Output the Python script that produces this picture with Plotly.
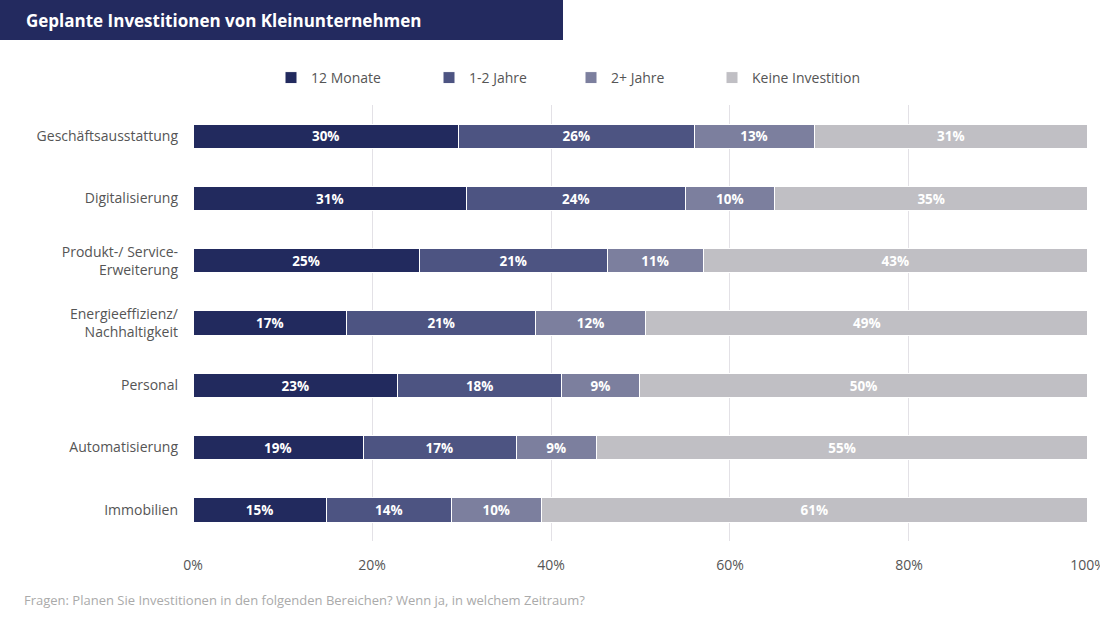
import plotly.graph_objects as go

categories = ["Geschäftsausstattung", "Digitalisierung", "Produkt-/ Service-<br>Erweiterung",
              "Energieeffizienz/<br>Nachhaltigkeit", "Personal", "Automatisierung", "Immobilien"]
series_names = ["12 Monate", "1-2 Jahre", "2+ Jahre", "Keine Investition"]
v12 = [29.7, 30.6, 25.3, 17.2, 22.9, 19.0, 14.9]
v1_2 = [26.3, 24.4, 21.0, 21.1, 18.3, 17.1, 14.0]
v2p = [13.4, 10.0, 10.7, 12.3, 8.7, 9.0, 10.0]
vnone = [30.6, 35.0, 43.0, 49.4, 50.1, 54.9, 61.1]
colors = ["#222a5e", "#4d5482", "#7c7f9e", "#c0bfc4"]
tick_vals = [0, 20, 40, 60, 80, 100]
tick_text = ["0%", "20%", "40%", "60%", "80%", "100%"]

PW, PH, L, T = 895, 436, 193, 105
legend_ids = ["legend", "legend2", "legend3", "legend4"]
legend_left_px = [271, 429, 571, 712]

fig = go.Figure()
for name, vals, col, lid in zip(series_names, [v12, v1_2, v2p, vnone], colors, legend_ids):
    fig.add_trace(go.Bar(
        y=categories, x=vals, name=name, orientation="h", legend=lid,
        marker=dict(color=col, line=dict(color="white", width=1)),
        texttemplate="%{x:.0f}%", textposition="inside", insidetextanchor="middle",
        textfont=dict(color="white", size=14, family="Open Sans", weight="bold"),
        hoverinfo="skip",
    ))

legend_defs = {}
for lid, lx in zip(legend_ids, legend_left_px):
    legend_defs[lid] = dict(orientation="h", x=(lx - L) / PW, xanchor="left", y=1 + 27 / PH,
                            yanchor="middle", font=dict(size=14, color="#555555"), itemwidth=30,
                            bgcolor="rgba(0,0,0,0)")

fig.update_layout(
    barmode="stack", bargap=0.61,
    width=1100, height=618,
    margin=dict(l=L, r=12, t=T, b=77, autoexpand=False),
    paper_bgcolor="white", plot_bgcolor="white",
    font=dict(family="Open Sans", color="#555555", size=14),
    showlegend=True,
    uniformtext=dict(mode="show", minsize=8),
    **legend_defs,
)
fig.update_xaxes(range=[0, 100.001], tickvals=tick_vals, ticktext=tick_text,
                 showgrid=True, gridcolor="#e3e1e6", gridwidth=1, zeroline=False,
                 ticks="", tickfont=dict(size=14, color="#555555"), ticklabelstandoff=14,
                 ticklabeloverflow="allow", automargin=False)
fig.update_yaxes(autorange="reversed", tickfont=dict(size=14, color="#555555"),
                 ticks="", ticklabelstandoff=14, showgrid=False, automargin=False)

fig.add_shape(type="rect", xref="paper", yref="paper", x0=-L / PW, x1=(563 - L) / PW,
              y0=1 + (T - 40) / PH, y1=1 + T / PH, fillcolor="#232a5f", line=dict(width=0), layer="below")
fig.add_annotation(text="<b>Geplante Investitionen von Kleinunternehmen</b>", xref="paper", yref="paper",
                   x=(24 - L) / PW, y=1 + (T - 20) / PH, xanchor="left", yanchor="middle",
                   showarrow=False, font=dict(size=17, color="white", family="Open Sans"))
fig.add_annotation(text="Fragen: Planen Sie Investitionen in den folgenden Bereichen? Wenn ja, in welchem Zeitraum?",
                   xref="paper", yref="paper", x=(22 - L) / PW, y=-(600 - 541) / PH,
                   xanchor="left", yanchor="middle", showarrow=False,
                   font=dict(size=13, color="#aaaaaa", family="Open Sans"))

fig.write_html("out.html")
